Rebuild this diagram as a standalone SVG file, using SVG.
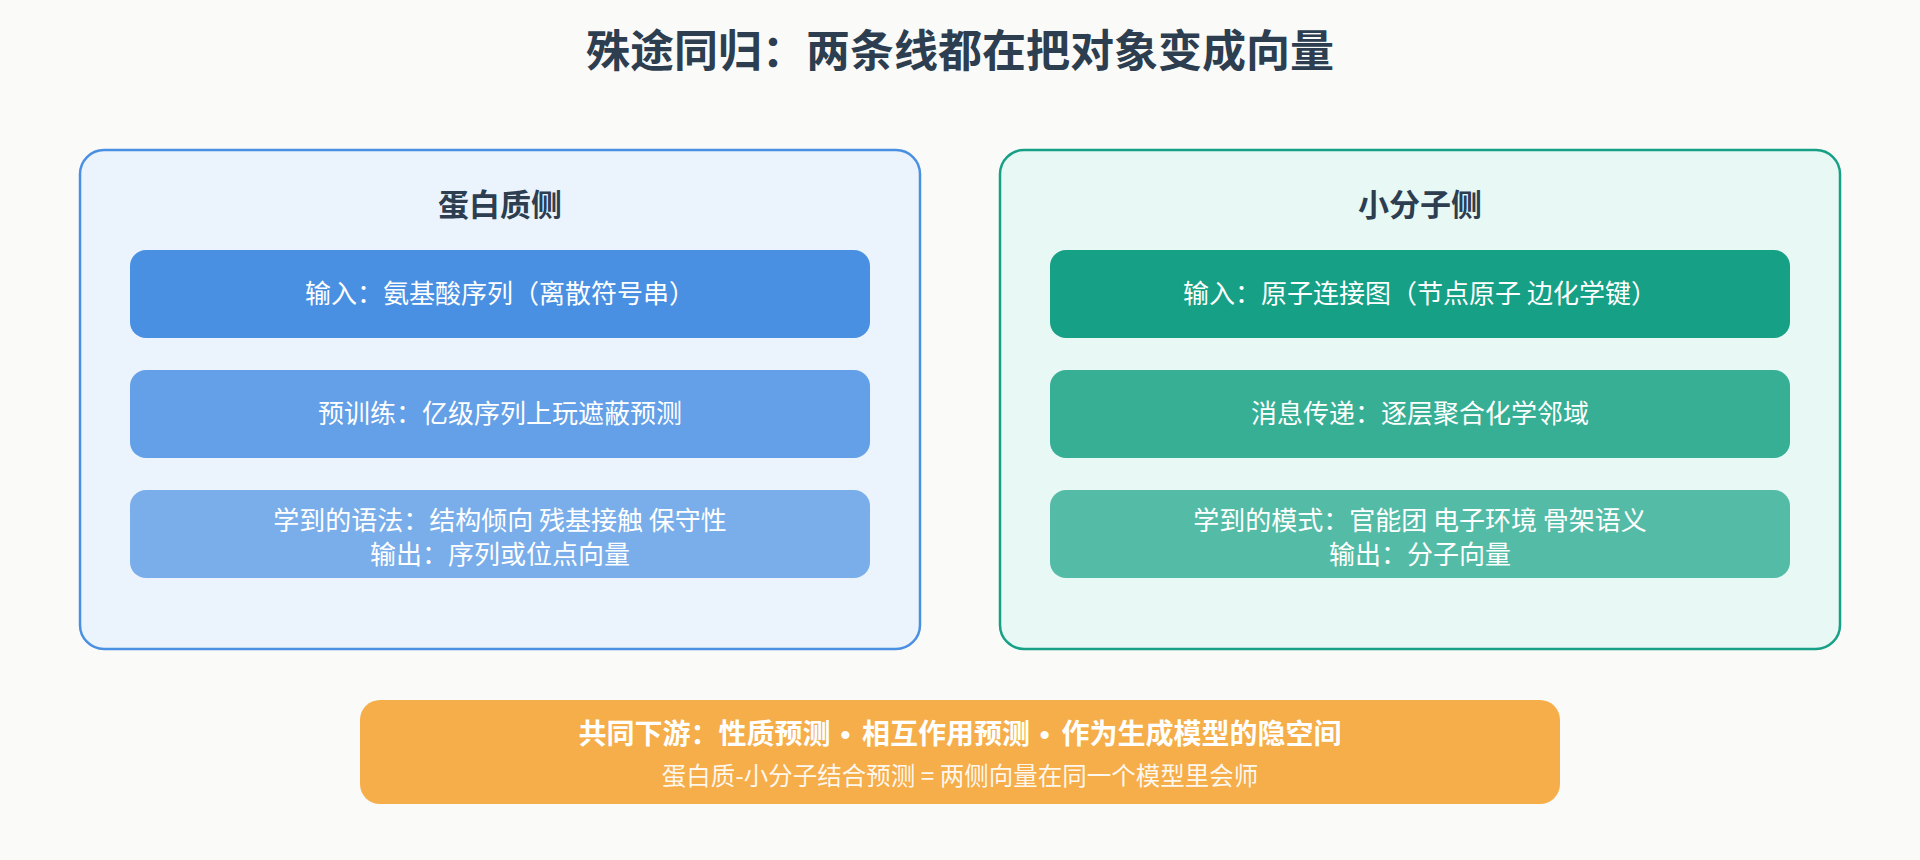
<svg xmlns="http://www.w3.org/2000/svg" width="1920" height="860" viewBox="0 0 1920 860">
<style>
text{font-family:"Noto Sans CJK SC","Noto Sans",sans-serif;text-anchor:middle}
.title{font-size:44px;font-weight:700;fill:#2c3e50}
.sec{font-size:31px;font-weight:700;fill:#2c3e50}
.item{font-size:26px;fill:#ffffff}
.b1{font-size:28px;font-weight:700;fill:#ffffff}
.b2{font-size:24.5px;fill:#ffffff;fill-opacity:0.92}
.lat{font-family:"Liberation Sans",sans-serif;letter-spacing:2px}
</style>
<rect x="0" y="0" width="1920" height="860" fill="#fafaf8"/>
<text class="title" x="960" y="67">殊途同归：两条线都在把对象变成向量</text>
<g id="protein">
<rect x="80" y="150" width="840" height="499" rx="24" fill="#ebf3fd" stroke="#4a90e2" stroke-width="2.5"/>
<text class="sec" x="500" y="216">蛋白质侧</text>
<g id="p1"><rect x="130" y="250" width="740" height="88" rx="16" fill="#4a90e2"/>
<text class="item" x="500" y="303">输入：氨基酸序列（离散符号串）</text></g>
<g id="p2"><rect x="130" y="370" width="740" height="88" rx="16" fill="#63a0e7"/>
<text class="item" x="500" y="423">预训练：亿级序列上玩遮蔽预测</text></g>
<g id="p3"><rect x="130" y="490" width="740" height="88" rx="16" fill="#7aaeea"/>
<text class="item" x="500" y="530">学到的语法：结构倾向 残基接触 保守性</text>
<text class="item" x="500" y="564">输出：序列或位点向量</text></g>
</g>
<g id="molecule">
<rect x="1000" y="150" width="840" height="499" rx="24" fill="#e8f8f5" stroke="#16a085" stroke-width="2.5"/>
<text class="sec" x="1420" y="216">小分子侧</text>
<g id="m1"><rect x="1050" y="250" width="740" height="88" rx="16" fill="#16a085"/>
<text class="item" x="1420" y="303">输入：原子连接图（节点原子 边化学键）</text></g>
<g id="m2"><rect x="1050" y="370" width="740" height="88" rx="16" fill="#36af95"/>
<text class="item" x="1420" y="423">消息传递：逐层聚合化学邻域</text></g>
<g id="m3"><rect x="1050" y="490" width="740" height="88" rx="16" fill="#54bca6"/>
<text class="item" x="1420" y="530">学到的模式：官能团 电子环境 骨架语义</text>
<text class="item" x="1420" y="564">输出：分子向量</text></g>
</g>
<g id="downstream">
<rect x="360" y="700" width="1200" height="104" rx="20" fill="#f5ae4a"/>
<text class="b1" x="960" y="744">共同下游：性质预测<tspan class="lat"> • </tspan>相互作用预测<tspan class="lat"> • </tspan>作为生成模型的隐空间</text>
<text class="b2" x="960" y="785">蛋白质-小分子结合预测 = 两侧向量在同一个模型里会师</text>
</g>
<g id="connectors"></g>
</svg>
